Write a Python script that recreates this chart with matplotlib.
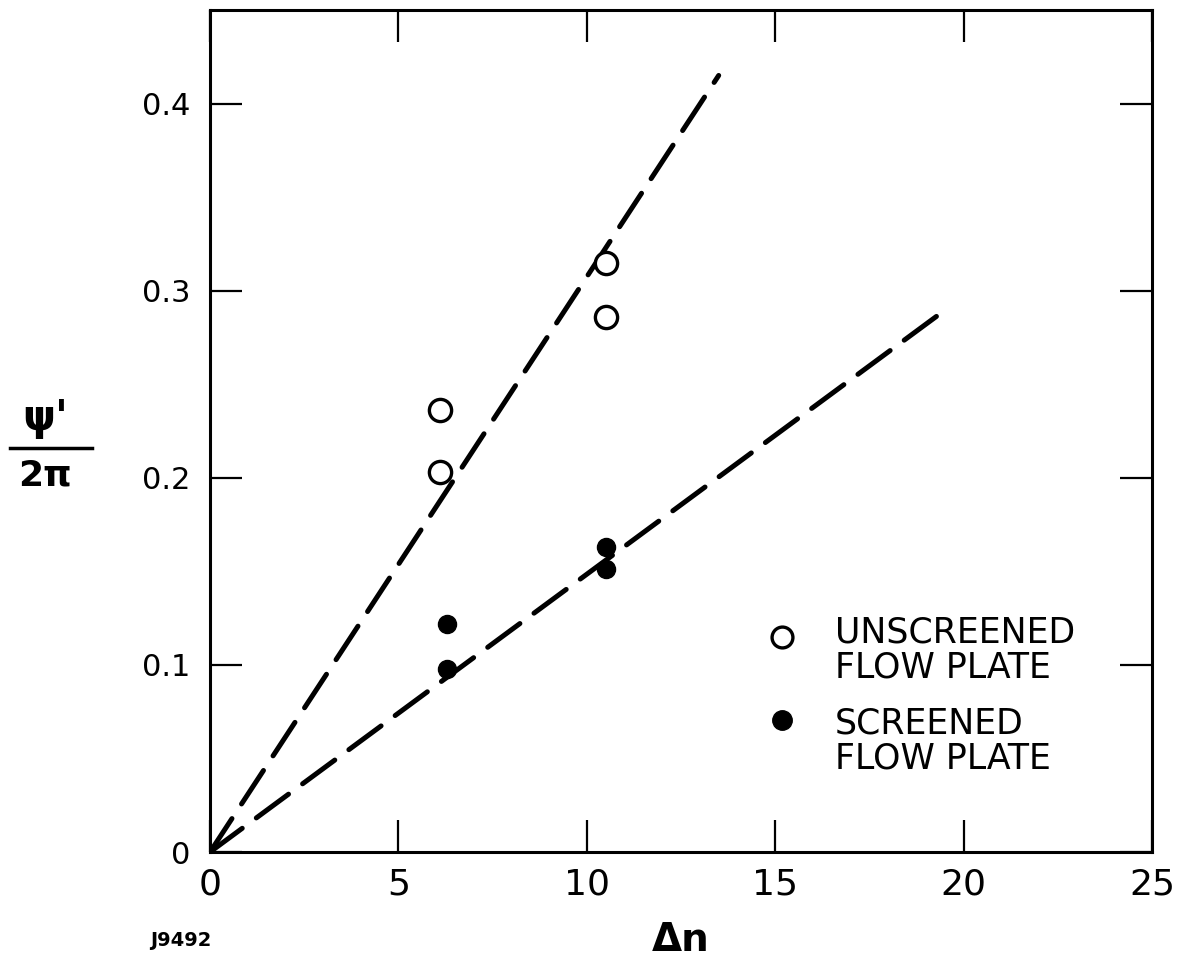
import matplotlib
matplotlib.use("Agg")
import matplotlib.pyplot as plt
from matplotlib.lines import Line2D

# Data
unscreened_x = [6.1, 6.1, 10.5, 10.5]
unscreened_y = [0.236, 0.203, 0.315, 0.286]
screened_x = [6.3, 6.3, 10.5, 10.5]
screened_y = [0.122, 0.098, 0.163, 0.151]
fit_unscreened_x = [0.0, 13.5]
fit_unscreened_y = [0.0, 0.415]
fit_screened_x = [0.0, 19.6]
fit_screened_y = [0.0, 0.291]
xticks = [0, 5, 10, 15, 20, 25]
yticks = [0, 0.1, 0.2, 0.3, 0.4]
ytick_labels = ["0", "0.1", "0.2", "0.3", "0.4"]
legend_labels = ["UNSCREENED\nFLOW PLATE", "SCREENED\nFLOW PLATE"]

plt.rcParams['font.family'] = ['DejaVu Sans']

W, H = 1182, 958
fig = plt.figure(figsize=(W / 100, H / 100), dpi=100)
ax = fig.add_axes([0.1777, 0.1106, 0.9746 - 0.1777, 0.9896 - 0.1106])

dash = (0, (8, 3.5))
ax.plot(fit_unscreened_x, fit_unscreened_y, color='black', lw=3.6,
        linestyle=dash, dash_capstyle='round', solid_capstyle='round')
ax.plot(fit_screened_x, fit_screened_y, color='black', lw=3.6,
        linestyle=dash, dash_capstyle='round', solid_capstyle='round')

ax.plot(unscreened_x, unscreened_y, linestyle='none', marker='o', ms=16,
        mfc='white', mec='black', mew=2.4, zorder=3)
ax.plot(screened_x, screened_y, linestyle='none', marker='o', ms=13,
        mfc='black', mec='black', zorder=3)

ax.set_xlim(0, 25)
ax.set_ylim(0, 0.45)
ax.set_xticks(xticks)
ax.set_xticklabels([str(t) for t in xticks])
ax.set_yticks(yticks)
ax.set_yticklabels(ytick_labels)

for s in ax.spines.values():
    s.set_linewidth(2.2)

ax.tick_params(axis='both', which='major', direction='in', length=23, width=1.6,
               top=True, right=True, color='black')
ax.tick_params(axis='x', labelsize=26, pad=11)
ax.tick_params(axis='y', labelsize=22, pad=14)

# x label
ax.set_xlabel("Δn", fontsize=28, fontweight='bold', labelpad=14)

# y label as fraction
fig.text(45 / W, 1 - 418 / H, "ψ'", fontsize=30, fontweight='bold',
         ha='center', va='center')
fig.add_artist(Line2D([10 / W, 92 / W], [1 - 448 / H, 1 - 448 / H],
                      color='black', lw=2.5, transform=fig.transFigure))
fig.text(45 / W, 1 - 475 / H, "2π", fontsize=26, fontweight='bold',
         ha='center', va='center')

# J9492 label
fig.text(150 / W, 1 - 940 / H, "J9492", fontsize=14, fontweight='bold',
         ha='left', va='center')

# legend (manual)
def px2data(px, py):
    inv = ax.transData.inverted()
    return inv.transform(fig.transFigure.transform((px / W, 1 - py / H)))

fig.canvas.draw()
mx, my1 = px2data(782, 637)
_, my2 = px2data(782, 720)
tx, ty1 = px2data(835, 650)
_, ty2 = px2data(835, 741)
ax.plot([mx], [my1], linestyle='none', marker='o', ms=15, mfc='white',
        mec='black', mew=2.4, clip_on=False)
ax.plot([mx], [my2], linestyle='none', marker='o', ms=14, mfc='black',
        mec='black', clip_on=False)
ax.text(tx, ty1, legend_labels[0], fontsize=25, ha='left', va='center',
        linespacing=1.05)
ax.text(tx, ty2, legend_labels[1], fontsize=25, ha='left', va='center',
        linespacing=1.05)

fig.savefig("out.png", dpi=100, facecolor='white')
